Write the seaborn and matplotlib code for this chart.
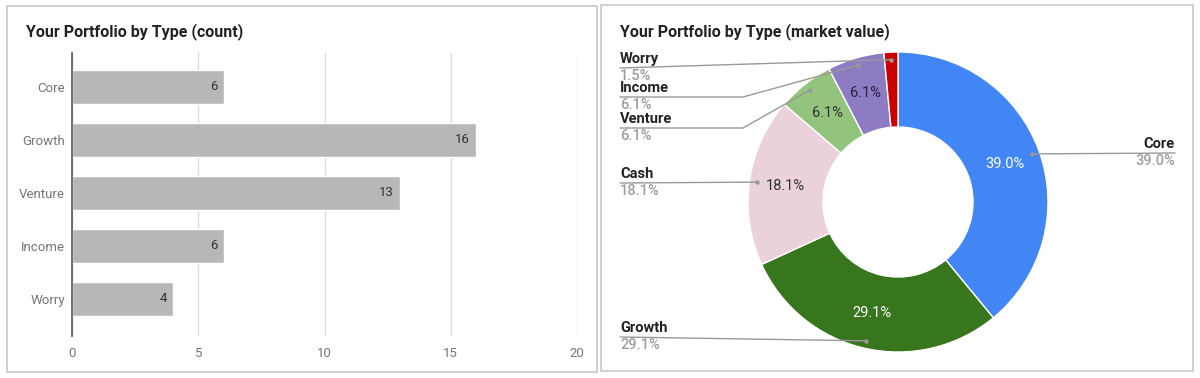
import numpy as np
import pandas as pd
import seaborn as sns
import matplotlib.pyplot as plt
from matplotlib.patches import Rectangle

# data
bar_types = ['Core', 'Growth', 'Venture', 'Income', 'Worry']
bar_counts = [6, 16, 13, 6, 4]

pie_types = ['Core', 'Growth', 'Cash', 'Venture', 'Income', 'Worry']
pie_values = [39.0, 29.1, 18.1, 6.1, 6.1, 1.5]
pie_colors = ['#4285f4', '#38761d', '#ead1dc', '#93c47d', '#8e7cc3', '#cc0000']
inner_text_colors = ['white', 'white', '#333333', '#333333', '#222244', None]

sns.set_theme(style='white')
plt.rcParams['font.family'] = ['Roboto', 'DejaVu Sans']

W, H = 1200, 378
fig = plt.figure(figsize=(12, 3.78), dpi=100)

# panel borders
for x0, y0, x1, y1 in [(7, 6, 597, 372), (601, 5, 1193, 371)]:
    fig.add_artist(Rectangle((x0 / W, 1 - y1 / H), (x1 - x0) / W, (y1 - y0) / H,
                             transform=fig.transFigure, fill=False,
                             edgecolor='#c8c8c8', lw=1.2))

# ---- left: bar chart ----
ax = fig.add_axes([72 / W, 1 - 336 / H, (577 - 72) / W, (336 - 53) / H])
df = pd.DataFrame({'type': bar_types, 'count': bar_counts})
sns.barplot(data=df, x='count', y='type', color='#b7b7b7', saturation=1,
            width=0.64, ax=ax, zorder=2)
ax.set_xlim(0, 20)
ax.set_ylim(4.70, -0.64)
ax.set_xticks([0, 5, 10, 15, 20])
ax.xaxis.grid(True, color='#dcdcdc', lw=1, zorder=0)
ax.set_axisbelow(True)
for s in ['top', 'right', 'bottom']:
    ax.spines[s].set_visible(False)
ax.spines['left'].set_color('#555555')
ax.spines['left'].set_linewidth(1.2)
ax.spines['left'].set_zorder(3)
ax.set_xlabel('')
ax.set_ylabel('')
ax.tick_params(axis='both', length=0, labelsize=9.5, labelcolor='#757575')
ax.tick_params(axis='x', pad=8)
ax.tick_params(axis='y', pad=5)
for i, v in enumerate(bar_counts):
    ax.text(v - 0.25, i, str(v), ha='right', va='center', fontsize=9.5, color='#333333', zorder=4)
fig.text(26 / W, 1 - 32 / H, 'Your Portfolio by Type (count)', fontsize=11.5,
         fontweight='bold', color='#222222', va='center', ha='left')

# ---- right: donut ----
cx, cy, R = 898, 202, 150
pax = fig.add_axes([(cx - R) / W, 1 - (cy + R) / H, 2 * R / W, 2 * R / H])
wedges, _ = pax.pie(pie_values, colors=pie_colors, startangle=90, counterclock=False,
                    radius=1, wedgeprops=dict(width=0.5, edgecolor='white', linewidth=1))
pax.set_xlim(-1, 1)
pax.set_ylim(-1, 1)
pax.set_aspect('equal')
pax.axis('off')
fig.text(620 / W, 1 - 32 / H, 'Your Portfolio by Type (market value)', fontsize=11.5,
         fontweight='bold', color='#222222', va='center', ha='left')

# outside label layout (pixel y of the leader line, side)
label_line_y = {'Core': 153, 'Growth': 337, 'Cash': 183, 'Venture': 128, 'Income': 97, 'Worry': 68}
label_elbow_x = {'Core': None, 'Growth': None, 'Cash': None, 'Venture': 743, 'Income': 743, 'Worry': None}

def to_data(px, py):
    return (px - cx) / R, (cy - py) / R

for w, name, val, tc in zip(wedges, pie_types, pie_values, inner_text_colors):
    ang = np.deg2rad((w.theta1 + w.theta2) / 2)
    # inner percent label
    if tc is not None:
        pax.text(0.76 * np.cos(ang), 0.76 * np.sin(ang), f'{val:.1f}%', ha='center',
                 va='center', fontsize=10.5, color=tc)
    dx, dy = 0.95 * np.cos(ang), 0.95 * np.sin(ang)
    pax.plot([dx], [dy], 'o', ms=2.2, color='#999999', clip_on=False, zorder=5)
    ly = label_line_y[name]
    if name == 'Core':
        ex, ey = to_data(1175, ly)
        pax.plot([dx, ex], [dy, ey], color='#999999', lw=1, clip_on=False)
        pax.text(ex, ey + 0.015, name, ha='right', va='bottom', fontsize=10.5,
                 fontweight='bold', color='#222222')
        pax.text(ex, ey - 0.005, f'{val:.1f}%', ha='right', va='top', fontsize=10.5,
                 fontweight='medium', color='#9e9e9e')
    else:
        sx, sy = to_data(620, ly)
        if label_elbow_x[name] is not None:
            mx, my = to_data(label_elbow_x[name], ly)
            pax.plot([sx, mx, dx], [sy, my, dy], color='#999999', lw=1, clip_on=False)
        else:
            pax.plot([sx, dx], [sy, dy], color='#999999', lw=1, clip_on=False)
        pax.text(sx, sy + 0.015, name, ha='left', va='bottom', fontsize=10.5,
                 fontweight='bold', color='#222222')
        pax.text(sx, sy - 0.005, f'{val:.1f}%', ha='left', va='top', fontsize=10.5,
                 fontweight='medium', color='#9e9e9e')

fig.savefig('out.png', dpi=100, facecolor='white')
